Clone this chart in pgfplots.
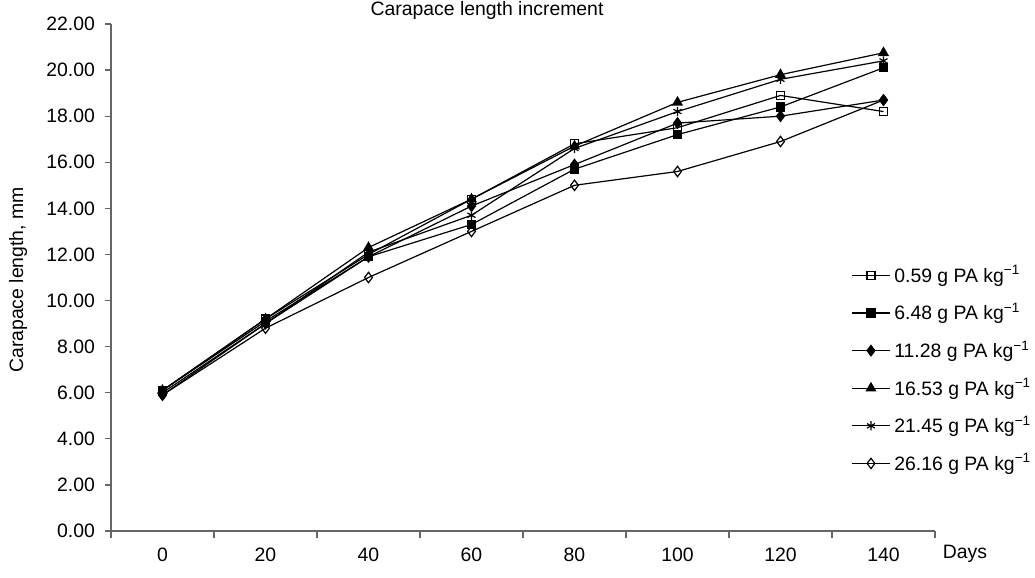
\documentclass[border=0pt]{standalone}
\usepackage{fontspec}
\setmainfont{Liberation Sans}
\usepackage{pgfplots}
\pgfplotsset{compat=1.18}
\begin{document}
\begin{tikzpicture}[font=\fontsize{9.7}{11.6}\selectfont]
\useasboundingbox (-55.5pt,-23.5pt) rectangle (462pt,265.5pt);
\begin{axis}[
 at={(0,0)}, anchor=south west,
 scale only axis, width=412pt, height=253.5pt,
 xmin=-0.5, xmax=7.5, ymin=0, ymax=22,
 clip=false,
 axis lines*=left,
 axis line style={black!60, line width=0.6pt},
 xtick={0,...,7}, xticklabels={0,20,40,60,80,100,120,140},
 minor xtick={-0.5,0.5,...,7.5},
 ytick={0,2,...,22},
 tick align=outside,
 major tick length=3pt, minor tick length=3.5pt,
 tick style={black!60, line width=0.6pt},
 major x tick style={draw=none},
 xticklabel style={yshift=-2pt},
 yticklabel style={xshift=-1.5pt, /pgf/number format/.cd, fixed, fixed zerofill, precision=2},
 /pgf/number format/assume math mode=true,
 every axis plot/.append style={black, line width=0.6pt},
 legend image code/.code={\draw[mark repeat=2,mark phase=2] plot coordinates {(0cm,0cm) (0.33cm,0cm) (0.66cm,0cm)};},
 legend style={at={(0.891,0.54)}, anchor=north west, draw=none, fill=none,
   font=\fontsize{9.7}{11.6}\selectfont, row sep=5pt},
 legend cell align=left,
]
\addplot[mark=square, mark size=2pt, mark options={fill=white, solid}] coordinates {(0,6.1) (1,9.2) (2,12.0) (3,14.4) (4,16.8) (5,17.5) (6,18.9) (7,18.2)};
\addlegendentry{0.59 g PA kg\textsuperscript{−1}}
\addplot[mark=square*, mark size=2pt] coordinates {(0,6.1) (1,9.1) (2,11.9) (3,13.3) (4,15.7) (5,17.2) (6,18.4) (7,20.1)};
\addlegendentry{6.48 g PA kg\textsuperscript{−1}}
\addplot[mark=diamond*, mark size=2.6pt] coordinates {(0,5.9) (1,9.0) (2,11.9) (3,14.1) (4,15.9) (5,17.7) (6,18.0) (7,18.7)};
\addlegendentry{11.28 g PA kg\textsuperscript{−1}}
\addplot[mark=triangle*, mark size=2.6pt] coordinates {(0,6.1) (1,9.2) (2,12.3) (3,14.4) (4,16.7) (5,18.6) (6,19.8) (7,20.75)};
\addlegendentry{16.53 g PA kg\textsuperscript{−1}}
\addplot[mark=asterisk, mark size=2.3pt] coordinates {(0,6.0) (1,9.0) (2,12.1) (3,13.7) (4,16.6) (5,18.2) (6,19.6) (7,20.4)};
\addlegendentry{21.45 g PA kg\textsuperscript{−1}}
\addplot[mark=diamond, mark size=2.6pt, mark options={fill=white}] coordinates {(0,5.9) (1,8.8) (2,11.0) (3,13.0) (4,15.0) (5,15.6) (6,16.9) (7,18.7)};
\addlegendentry{26.16 g PA kg\textsuperscript{−1}}
\end{axis}
\node at (188pt,260.5pt) {Carapace length increment};
\node[rotate=90] at (-46.5pt,125.5pt) {Carapace length, mm};
\node at (427pt,-11.5pt) {Days};
\end{tikzpicture}
\end{document}
